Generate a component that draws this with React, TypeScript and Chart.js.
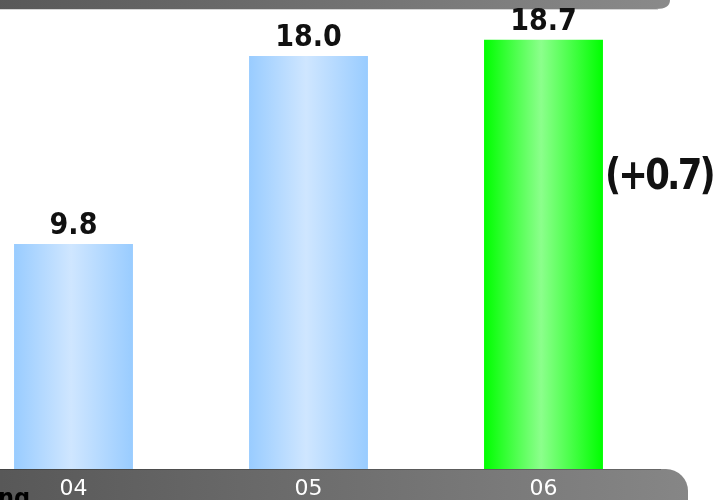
import React, { useEffect, useRef } from "react";
import { Chart, registerables } from "chart.js";

Chart.register(...registerables);

// Season figures
const CATEGORIES = ["04", "05", "06"];
const VALUES = [9.8, 18.0, 18.7];
const HIGHLIGHT_INDEX = 2;
const CHANGE_LABEL = "(+0.7)";
const FOOT_TEXT = "ng";
const Y_MAX = 20;

// Geometry of the drawing surface (the plot runs a little past the left edge)
const CANVAS_W = 759;
const CANVAS_H = 500;
const SHIFT_X = 44;
const BAR_PCT = 0.506;

const decorPlugin = {
  id: "decor",
  beforeDraw(chart: any) {
    const { ctx } = chart;
    ctx.save();
    ctx.fillStyle = "#ffffff";
    ctx.fillRect(0, 0, chart.width, chart.height);

    // header strip
    const right = 670 + SHIFT_X;
    const g = ctx.createLinearGradient(0, 0, right, 0);
    g.addColorStop(0, "#555555");
    g.addColorStop(1, "#8a8a8a");
    ctx.fillStyle = g;
    ctx.beginPath();
    ctx.moveTo(0, 0);
    ctx.lineTo(right, 0);
    ctx.quadraticCurveTo(right, 9, right - 14, 9);
    ctx.lineTo(0, 9);
    ctx.closePath();
    ctx.fill();
    ctx.fillStyle = "#d6d6d6";
    ctx.fillRect(0, 9, right - 12, 1);
    ctx.restore();
  },
  afterDatasetsDraw(chart: any) {
    const { ctx, chartArea } = chart;
    const xs = chart.scales.x;
    const meta = chart.getDatasetMeta(0);
    ctx.save();

    // footer strip with rounded end
    const top = chartArea.bottom;
    const fRight = 688 + SHIFT_X;
    const r = 22;
    const fg = ctx.createLinearGradient(0, 0, fRight, 0);
    fg.addColorStop(0, "#555555");
    fg.addColorStop(1, "#868686");
    ctx.fillStyle = fg;
    ctx.beginPath();
    ctx.moveTo(0, top);
    ctx.lineTo(fRight - r, top);
    ctx.arcTo(fRight, top, fRight, top + r, r);
    ctx.lineTo(fRight, chart.height);
    ctx.lineTo(0, chart.height);
    ctx.closePath();
    ctx.fill();

    // base line
    ctx.fillStyle = "rgba(0,0,0,0.22)";
    ctx.fillRect(0, top, chartArea.right, 1);

    // category labels
    ctx.fillStyle = "#ffffff";
    ctx.font = "22px 'DejaVu Sans', sans-serif";
    ctx.textAlign = "center";
    ctx.textBaseline = "alphabetic";
    CATEGORIES.forEach((c, i) => {
      ctx.fillText(c, xs.getPixelForValue(i), 495);
    });

    // value labels
    ctx.fillStyle = "#111111";
    ctx.font = "bold 30px 'DejaVu Sans Condensed', 'DejaVu Sans', sans-serif";
    meta.data.forEach((bar: any, i: number) => {
      ctx.fillText(VALUES[i].toFixed(1), bar.x, bar.y - 10);
    });

    // change note beside the highlighted bar
    const hb = meta.data[HIGHLIGHT_INDEX];
    ctx.font = "bold 38px 'DejaVu Sans', sans-serif";
    ctx.textAlign = "left";
    (ctx as any).letterSpacing = "-3px";
    const w = ctx.measureText(CHANGE_LABEL).width;
    const targetW = 108;
    const x0 = hb.x + hb.width / 2 + 2;
    ctx.translate(x0, 189);
    ctx.scale(targetW / w, 1.1);
    ctx.fillText(CHANGE_LABEL, 0, 0);
    ctx.setTransform(1, 0, 0, 1, 0, 0);
    (ctx as any).letterSpacing = "0px";

    // caption fragment at the foot
    ctx.fillStyle = "#000000";
    ctx.font = "bold 25px 'DejaVu Sans Condensed', 'DejaVu Sans', sans-serif";
    ctx.fillText(FOOT_TEXT, SHIFT_X - 2, 506);
    ctx.restore();
  },
};

function barFill(context: any) {
  const chart = context.chart;
  const xs = chart.scales?.x;
  const hi = context.dataIndex === HIGHLIGHT_INDEX;
  const edge = hi ? "#00ff00" : "#99ccff";
  const mid = hi ? "#8cff8c" : "#cfe6ff";
  if (!xs || context.type !== "data" || !isFinite(xs.width)) return edge;
  const cx = xs.getPixelForValue(context.dataIndex);
  const half = ((xs.width / CATEGORIES.length) * BAR_PCT) / 2;
  const g = chart.ctx.createLinearGradient(cx - half, 0, cx + half, 0);
  g.addColorStop(0, edge);
  g.addColorStop(0.48, mid);
  g.addColorStop(1, edge);
  return g;
}

export default function App() {
  const ref = useRef<HTMLCanvasElement | null>(null);

  useEffect(() => {
    if (!ref.current) return;
    const chart = new Chart(ref.current, {
      type: "bar",
      data: {
        labels: CATEGORIES,
        datasets: [
          {
            data: VALUES,
            backgroundColor: barFill,
            borderWidth: 0,
            barPercentage: BAR_PCT,
            categoryPercentage: 1,
          },
        ],
      },
      options: {
        responsive: false,
        animation: false,
        devicePixelRatio: 1,
        layout: { padding: { left: 0, right: 54, top: 10, bottom: 31 } },
        scales: {
          x: { display: false },
          y: { display: false, min: 0, max: Y_MAX },
        },
        plugins: {
          legend: { display: false },
          tooltip: { enabled: false },
          title: { display: false },
        },
      },
      plugins: [decorPlugin],
    });
    return () => chart.destroy();
  }, []);

  return (
    <div
      style={{
        position: "fixed",
        left: 0,
        top: 0,
        width: 715,
        height: 500,
        overflow: "hidden",
        background: "#ffffff",
      }}
    >
      <canvas
        ref={ref}
        width={CANVAS_W}
        height={CANVAS_H}
        style={{ position: "absolute", left: -SHIFT_X, top: 0, width: CANVAS_W, height: CANVAS_H }}
      />
    </div>
  );
}
